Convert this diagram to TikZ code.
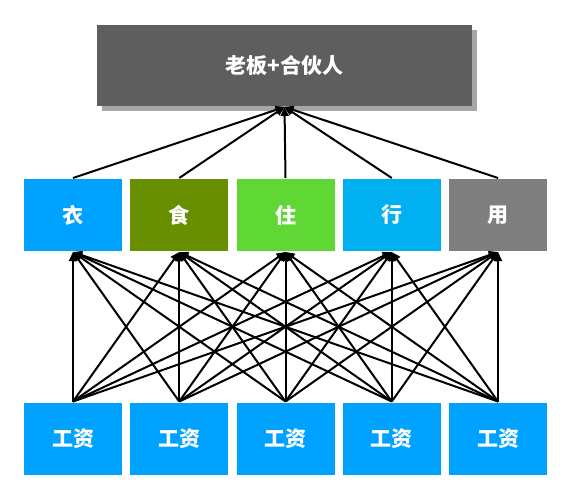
\documentclass[tikz,border=0pt]{standalone}
\usepackage{fontspec}
\newfontfamily\cjk{Noto Sans CJK SC}
\usetikzlibrary{arrows.meta,shadows}
\newcommand\W{106.25}

\definecolor{bossgray}{HTML}{5E5E5E}
\definecolor{wageblue}{HTML}{00A2FF}
\definecolor{foodgreen}{HTML}{678F00}
\definecolor{homegreen}{HTML}{5FD836}
\definecolor{goblue}{HTML}{00B0F0}
\definecolor{usegray}{HTML}{7F7F7F}

\begin{document}
\begin{tikzpicture}[x=1pt,y=-1pt,-{Triangle[length=9pt,width=8pt]},line width=2pt]

  \tikzstyle{every box}=[rectangle,inner sep=0pt,text=white,
                         font=\cjk\bfseries\fontsize{21}{24}\selectfont]
  \tikzstyle{cat}=[every box,minimum width=98pt,minimum height=72pt]

  \useasboundingbox (0,0) rectangle (570,490);

  \node[every box,fill=bossgray,minimum width=375pt,minimum height=81pt,
        drop shadow={shadow xshift=5pt,shadow yshift=-5pt,fill=black,opacity=.35}]
                             (BOSS) at (284.5,65.5) {老板+合伙人};

  \node[cat,fill=wageblue]   (YI)   at (73,215)        {衣};
  \node[cat,fill=foodgreen]  (SHI)  at (73+\W,215)     {食};
  \node[cat,fill=homegreen]  (ZHU)  at (73+2*\W,215)   {住};
  \node[cat,fill=goblue]     (XING) at (73+3*\W,215)   {行};
  \node[cat,fill=usegray]    (YONG) at (73+4*\W,215)   {用};

  \node[cat,fill=wageblue]   (W1)   at (73,438.5)      {工资};
  \node[cat,fill=wageblue]   (W2)   at (73+\W,438.5)   {工资};
  \node[cat,fill=wageblue]   (W3)   at (73+2*\W,438.5) {工资};
  \node[cat,fill=wageblue]   (W4)   at (73+3*\W,438.5) {工资};
  \node[cat,fill=wageblue]   (W5)   at (73+4*\W,438.5) {工资};

  \path
  (YI.north)   edge (BOSS.south)
  (SHI.north)  edge (BOSS.south)
  (ZHU.north)  edge (BOSS.south)
  (XING.north) edge (BOSS.south)
  (YONG.north) edge (BOSS.south)

  (W1.north) edge (YI.south) edge (SHI.south) edge (ZHU.south) edge (XING.south) edge (YONG.south)
  (W2.north) edge (YI.south) edge (SHI.south) edge (ZHU.south) edge (XING.south) edge (YONG.south)
  (W3.north) edge (YI.south) edge (SHI.south) edge (ZHU.south) edge (XING.south) edge (YONG.south)
  (W4.north) edge (YI.south) edge (SHI.south) edge (ZHU.south) edge (XING.south) edge (YONG.south)
  (W5.north) edge (YI.south) edge (SHI.south) edge (ZHU.south) edge (XING.south) edge (YONG.south)
  ;
\end{tikzpicture}
\end{document}
